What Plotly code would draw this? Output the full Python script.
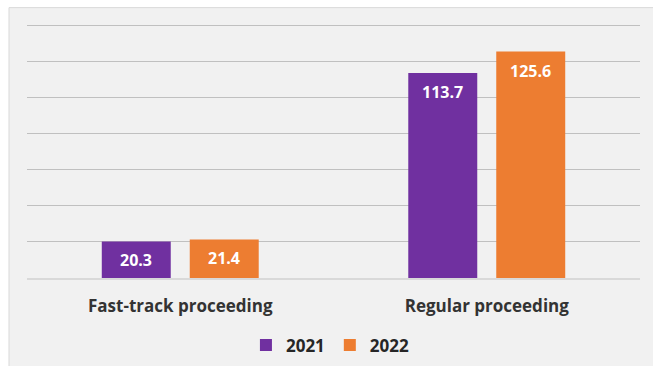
import plotly.graph_objects as go

categories = ["Fast-track proceeding", "Regular proceeding"]
years = ["2021", "2022"]
values_2021 = [20.3, 113.7]
values_2022 = [21.4, 125.6]
colors = {"2021": "#7030a0", "2022": "#ed7d31"}
y_ticks = [0, 20, 40, 60, 80, 100, 120, 140]
y_max = 142

W, H = 653, 366
px_per_unit = 252.5 / 140
L, R, B = 27, 13, 87.5
T = 26 - (y_max - 140) * px_per_unit
pw, ph = W - L - R, H - T - B

fig = go.Figure()
annotations = []
shifts = [-44, 44]
for yr, vals, sh in zip(years, [values_2021, values_2022], shifts):
    fig.add_trace(go.Bar(
        x=categories, y=vals, name=yr,
        marker=dict(color=colors[yr], line=dict(width=0)),
        hoverinfo="x+y",
    ))
    for c, v in zip(categories, vals):
        annotations.append(dict(
            x=c, y=v, xref="x", yref="y", xshift=sh, yshift=-19,
            text=f"{v:.1f}", showarrow=False, xanchor="center", yanchor="middle",
            font=dict(family="Open Sans", size=16, color="white", weight="bold"),
        ))

fig.update_layout(
    width=W, height=H,
    margin=dict(l=L, r=R, t=T, b=B, autoexpand=False),
    paper_bgcolor="white", plot_bgcolor="rgba(0,0,0,0)",
    barmode="group", bargap=0.426, bargroupgap=0.216,
    font=dict(family="Open Sans", color="#333333"),
    showlegend=True,
    legend=dict(orientation="h", x=0.495, xanchor="center",
                y=-(346 - (H - B)) / ph, yanchor="middle",
                bgcolor="rgba(0,0,0,0)",
                font=dict(family="Open Sans", size=17, color="#262626", weight="bold"),
                itemwidth=30, traceorder="normal"),
    annotations=annotations,
    shapes=[dict(type="rect", xref="paper", yref="paper", layer="below",
                 x0=(9 - L) / pw, x1=(W - L) / pw + 0.01,
                 y0=-(B + 2) / ph, y1=(T - 8) / ph + 1,
                 fillcolor="#f1f1f1", line=dict(color="#d9d9d9", width=1))],
)
fig.update_xaxes(showline=True, linecolor="#d9d9d9", linewidth=2, ticks="",
                 ticklabelstandoff=12, automargin=False,
                 tickfont=dict(family="Open Sans", size=17, color="#333333", weight="bold"))
fig.update_yaxes(range=[0, y_max], tickvals=y_ticks, showticklabels=False,
                 showgrid=True, gridcolor="#c0c0c0", gridwidth=1, zeroline=False,
                 automargin=False)

fig.write_html("out.html")
